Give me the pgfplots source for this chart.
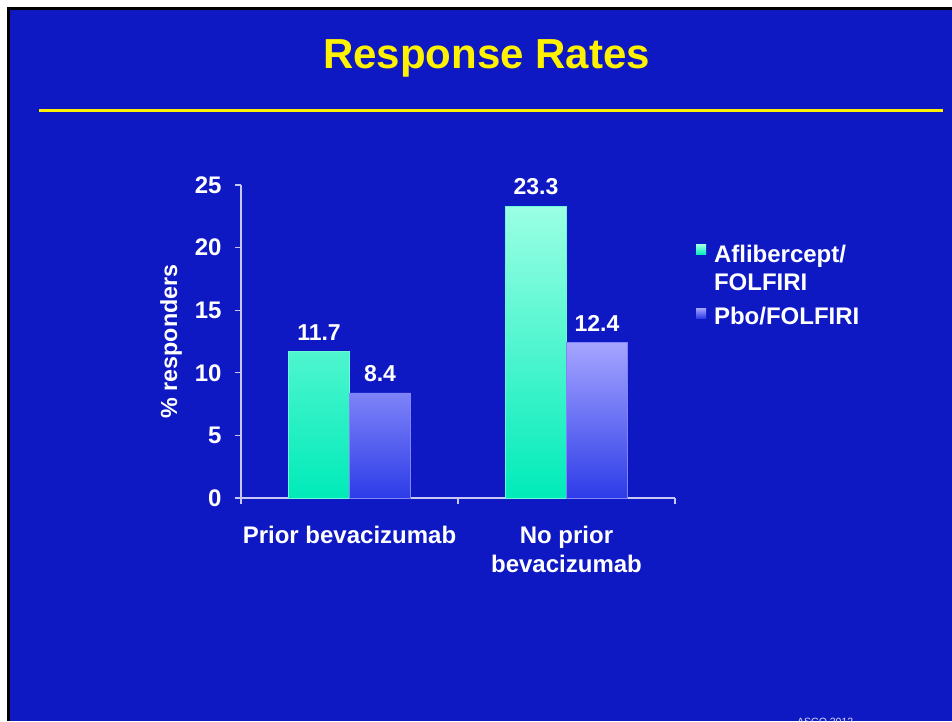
\documentclass[border=0pt]{standalone}
\usepackage{pgfplots}
\pgfplotsset{compat=1.18}
\usepackage{fontspec}
\setmainfont{Liberation Sans}

\definecolor{slidebg}{RGB}{15,25,195}
\definecolor{axisln}{RGB}{200,200,245}
\definecolor{afltop}{RGB}{155,255,228}
\definecolor{aflbot}{RGB}{0,235,185}
\definecolor{pbotop}{RGB}{165,165,255}
\definecolor{pbobot}{RGB}{45,60,232}

\begin{document}
\begin{tikzpicture}[x=1pt,y=1pt]
\useasboundingbox (0,0) rectangle (952,721);
% slide background with its dark frame
\fill[white] (0,0) rectangle (952,721);
\fill[black] (7,0) rectangle (952,714);
\fill[slidebg] (10,0) rectangle (952,711);
% title and rule
\fill[yellow] (39,609) rectangle (943,612);
\node[anchor=base, text=yellow, inner sep=0pt,
      font=\fontsize{42}{48}\selectfont\bfseries] at (486.5,652) {Response Rates};
\node[anchor=base west, text=white!85!slidebg, inner sep=0pt,
      font=\fontsize{10.5}{12}\selectfont] at (797,-4) {ASCO 2012};

\begin{axis}[
  at={(241pt,223pt)}, anchor=south west,
  scale only axis, width=434pt, height=313pt,
  xmin=0, xmax=2, ymin=0, ymax=25,
  axis lines=left,
  axis line style={-, draw=axisln, line width=1.3pt},
  tick align=outside,
  major tick length=6pt,
  tick style={draw=axisln, line width=1.3pt},
  /pgf/number format/assume math mode=true,
  ytick={0,5,...,25},
  yticklabel style={font=\fontsize{24}{28}\selectfont\bfseries, text=white, xshift=-10pt},
  xtick={0,1,2}, xticklabels={,,},
  extra x ticks={0.5,1.5},
  extra x tick labels={Prior bevacizumab,{No prior\\bevacizumab}},
  extra x tick style={major tick length=0pt},
  xticklabel style={font=\fontsize{24}{29}\selectfont\bfseries, text=white,
                    align=center, yshift=-25pt},
  ylabel={\% responders},
  ylabel style={at={(axis description cs:0,0.5)}, anchor=center,
                yshift=70pt, font=\fontsize{23.3}{28}\selectfont\bfseries, text=white},
  ybar=0pt, bar width=61pt,
  nodes near coords,
  nodes near coords style={font=\fontsize{23}{28}\selectfont\bfseries, text=white,
                           anchor=south, inner sep=0pt, yshift=11pt,
                           /pgf/number format/.cd, fixed, fixed zerofill, precision=1},
  legend style={draw=none, fill=none, inner sep=0pt,
                at={(rel axis cs:1.048,0.81)}, anchor=north west,
                font=\fontsize{24}{28}\selectfont\bfseries, text=white,
                cells={anchor=west}, column sep=8pt, row sep=15pt,
                nodes={align=left, inner sep=0pt}},
]
\addplot[draw=afltop!70!aflbot, line width=0.6pt, top color=afltop, bottom color=aflbot,
  legend image code/.code={\fill[top color=afltop, bottom color=aflbot, draw=none]
                           (0pt,14pt) rectangle (10pt,24pt);}]
  coordinates {(0.5,11.7) (1.5,23.3)};
\addlegendentry{Aflibercept/\\FOLFIRI}
\addplot[draw=pbotop!70!pbobot, line width=0.6pt, top color=pbotop, bottom color=pbobot,
  legend image code/.code={\fill[top color=pbotop, bottom color=pbobot, draw=none]
                           (0pt,-1.5pt) rectangle (10pt,8.5pt);}]
  coordinates {(0.5,8.4) (1.5,12.4)};
\addlegendentry{Pbo/FOLFIRI}
\end{axis}
\end{tikzpicture}
\end{document}
